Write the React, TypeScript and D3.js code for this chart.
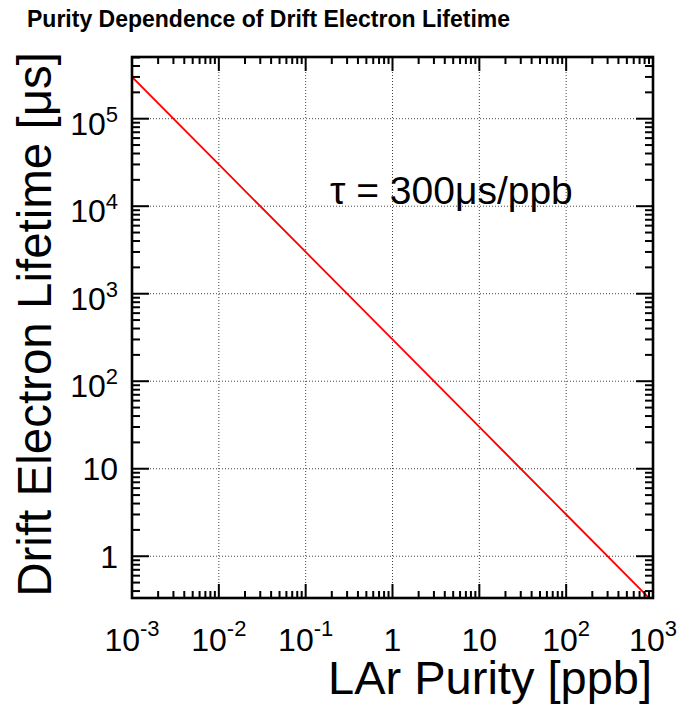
import React from "react";
import * as d3 from "d3";

const purityPoints = [0.001, 0.01, 0.1, 1, 10, 100, 1000];
const lifetimeValues = [300000, 30000, 3000, 300, 30, 3, 0.3];
const xTickValues = [0.001, 0.01, 0.1, 1, 10, 100, 1000];
const xTickBases = ["10", "10", "10", "1", "10", "10", "10"];
const xTickExps = ["-3", "-2", "-1", "", "", "2", "3"];
const yTickValues = [1, 10, 100, 1000, 10000, 100000];
const yTickBases = ["1", "10", "10", "10", "10", "10"];
const yTickExps = ["", "", "2", "3", "4", "5"];
const xDomain = [0.001, 1000];
const yDomain = [1 / 3, 5.07e5];
const titleText = "Purity Dependence of Drift Electron Lifetime";
const xTitle = "LAr Purity [ppb]";
const yTitle = "Drift Electron Lifetime [\u03bcs]";
const annotation = "\u03c4 = 300\u03bcs/ppb";

const W = 679, H = 704;
const L = 132, R = 653, T = 57, B = 598;
const FONT = "'Liberation Sans', Arial, Helvetica, sans-serif";

function minorTicks(domain: number[]) {
  const out: number[] = [];
  const lo = Math.floor(Math.log10(domain[0]));
  const hi = Math.ceil(Math.log10(domain[1]));
  for (let e = lo; e <= hi; e++) {
    for (let k = 2; k <= 9; k++) {
      const v = k * Math.pow(10, e);
      if (v >= domain[0] * 0.999 && v <= domain[1] * 1.001) out.push(v);
    }
  }
  return out;
}

export default function App() {
  const x = d3.scaleLog().domain(xDomain).range([L, R]);
  const y = d3.scaleLog().domain(yDomain).range([B, T]);
  const line = d3
    .line<number>()
    .x((_, i) => x(purityPoints[i]))
    .y((d) => y(d));
  const xMinor = minorTicks(xDomain);
  const yMinor = minorTicks(yDomain);
  const gridStyle = { stroke: "#444", strokeWidth: 1, strokeDasharray: "1,2" };
  const tickStyle = { stroke: "#000", strokeWidth: 2 };

  return (
    <svg
      width={W}
      height={H}
      style={{ position: "absolute", left: 0, top: 0, background: "#fff" }}
      fontFamily={FONT}
    >
      <rect x={0} y={0} width={W} height={H} fill="#fff" />
      <text x={27} y={27} fontSize={23} fontWeight="bold">
        {titleText}
      </text>
      <defs>
        <clipPath id="plotclip">
          <rect x={L} y={T} width={R - L} height={B - T} />
        </clipPath>
      </defs>
      {/* grid */}
      {xTickValues.slice(1, -1).map((v, i) => (
        <line key={"gx" + i} x1={x(v)} x2={x(v)} y1={T} y2={B} {...gridStyle} />
      ))}
      {yTickValues.map((v, i) => (
        <line key={"gy" + i} x1={L} x2={R} y1={y(v)} y2={y(v)} {...gridStyle} />
      ))}
      {/* function */}
      <path
        d={line(lifetimeValues) || ""}
        fill="none"
        stroke="#ff0000"
        strokeWidth={1.8}
        clipPath="url(#plotclip)"
      />
      {/* ticks */}
      {xTickValues.map((v, i) => (
        <g key={"xt" + i}>
          <line x1={x(v)} x2={x(v)} y1={B} y2={B - 14} {...tickStyle} />
          <line x1={x(v)} x2={x(v)} y1={T} y2={T + 14} {...tickStyle} />
        </g>
      ))}
      {xMinor.map((v, i) => (
        <g key={"xm" + i}>
          <line x1={x(v)} x2={x(v)} y1={B} y2={B - 7} {...tickStyle} />
          <line x1={x(v)} x2={x(v)} y1={T} y2={T + 7} {...tickStyle} />
        </g>
      ))}
      {yTickValues.map((v, i) => (
        <g key={"yt" + i}>
          <line x1={L} x2={L + 17} y1={y(v)} y2={y(v)} {...tickStyle} />
          <line x1={R} x2={R - 17} y1={y(v)} y2={y(v)} {...tickStyle} />
        </g>
      ))}
      {yMinor.map((v, i) => (
        <g key={"ym" + i}>
          <line x1={L} x2={L + 8} y1={y(v)} y2={y(v)} {...tickStyle} />
          <line x1={R} x2={R - 8} y1={y(v)} y2={y(v)} {...tickStyle} />
        </g>
      ))}
      {/* frame */}
      <rect x={L} y={T} width={R - L} height={B - T} fill="none" stroke="#000" strokeWidth={2.6} />
      {/* x tick labels */}
      {xTickValues.map((v, i) => (
        <text key={"xl" + i} x={x(v)} y={651} fontSize={32} textAnchor="middle">
          {xTickBases[i]}
          {xTickExps[i] && (
            <tspan fontSize={22} dy={-15}>
              {xTickExps[i]}
            </tspan>
          )}
        </text>
      ))}
      {/* y tick labels */}
      {yTickValues.map((v, i) => (
        <text
          key={"yl" + i}
          x={118}
          y={y(v) + (yTickExps[i] ? 16 : 11.5)}
          fontSize={32}
          textAnchor="end"
        >
          {yTickBases[i]}
          {yTickExps[i] && (
            <tspan fontSize={22} dy={-13}>
              {yTickExps[i]}
            </tspan>
          )}
        </text>
      ))}
      <text x={652} y={694} fontSize={47} textAnchor="end">
        {xTitle}
      </text>
      <text
        transform={`translate(51, 52) rotate(-90)`}
        fontSize={47.5}
        textAnchor="end"
      >
        {yTitle}
      </text>
      <text x={330} y={204} fontSize={39}>
        {annotation}
      </text>
    </svg>
  );
}
